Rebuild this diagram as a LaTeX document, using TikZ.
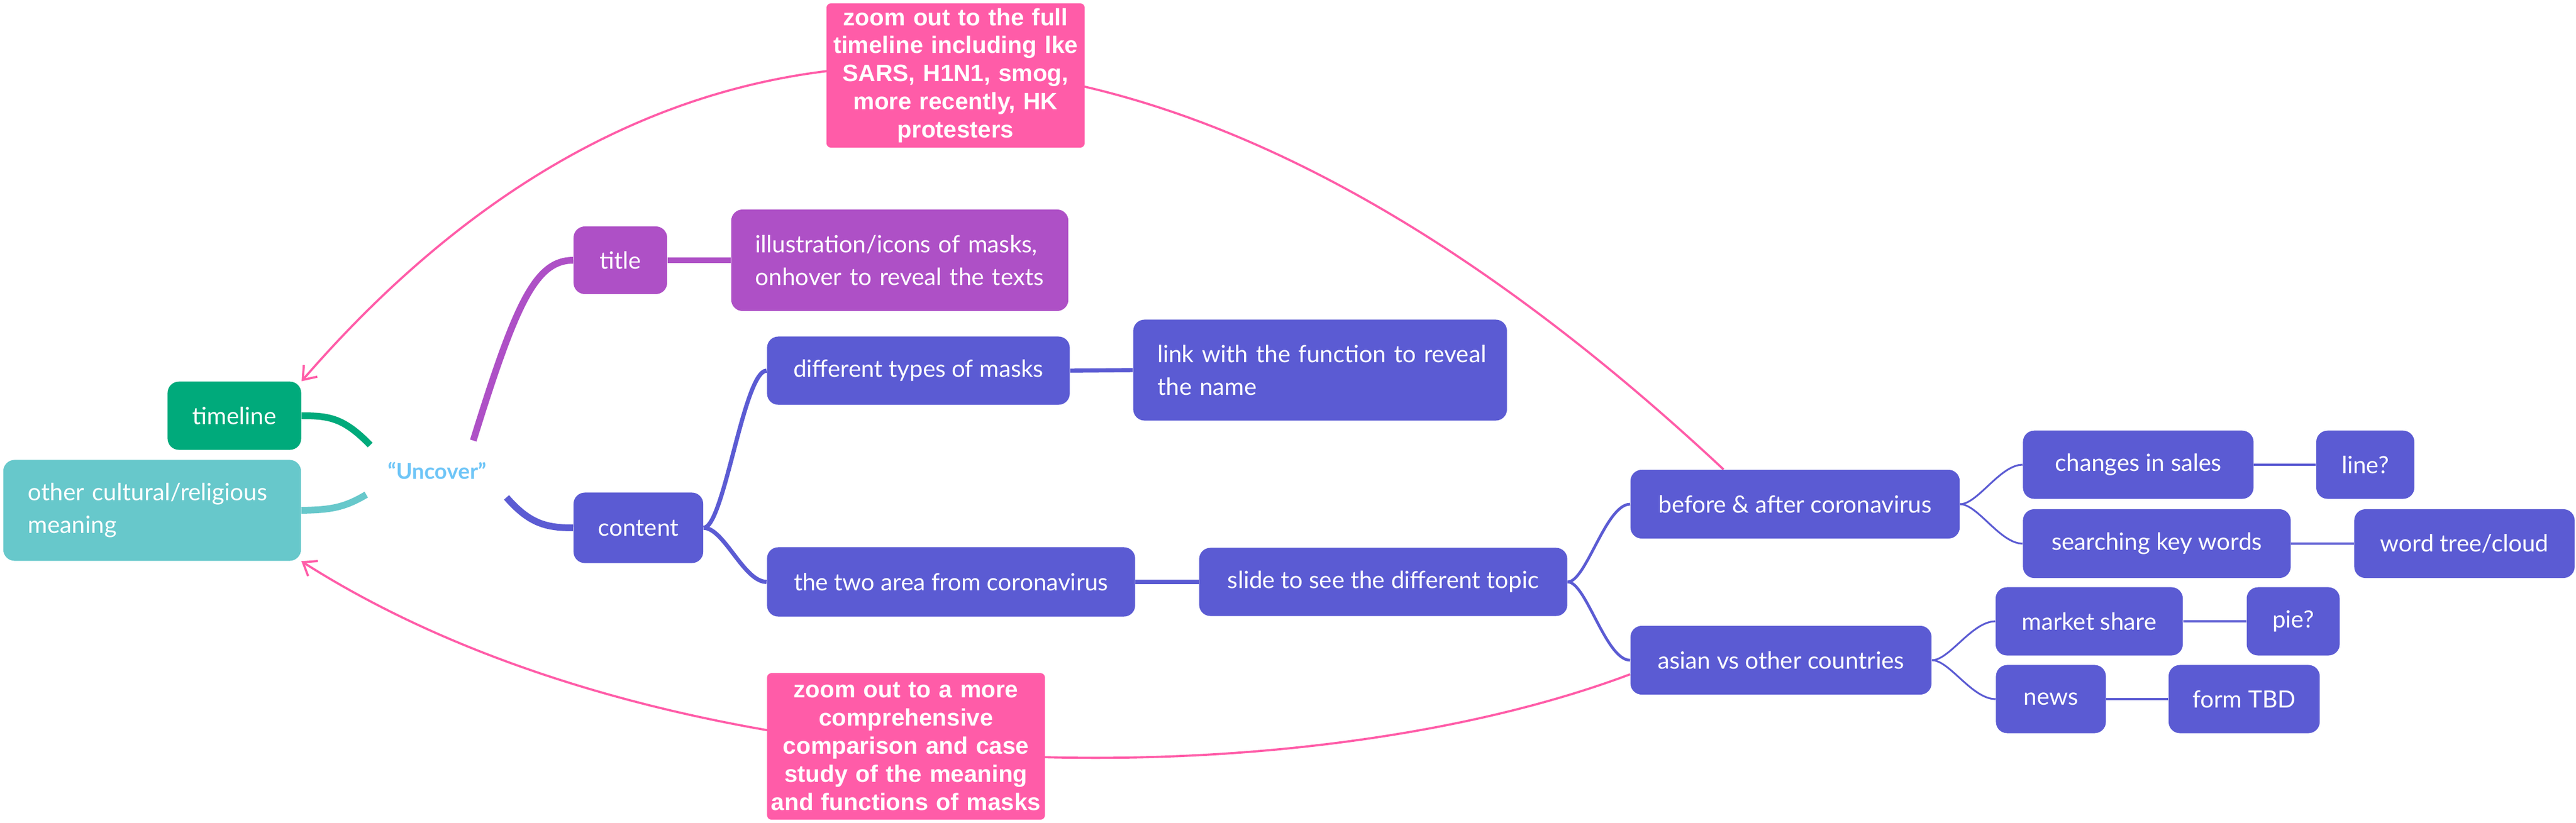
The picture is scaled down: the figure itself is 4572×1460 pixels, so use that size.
\documentclass[tikz,border=0pt]{standalone}
\usepackage{fontspec}
\setmainfont{Lato}
\newfontfamily\pinkfont{Liberation Sans}
\usetikzlibrary{arrows.meta}
\definecolor{cgreen}{RGB}{0,170,123}
\definecolor{cteal}{RGB}{103,200,203}
\definecolor{cpurple}{RGB}{174,80,198}
\definecolor{cblue}{RGB}{91,91,211}
\definecolor{cpink}{RGB}{255,92,168}
\definecolor{clight}{RGB}{110,197,247}
\pgfdeclarelayer{bg}
\pgfsetlayers{bg,main}
\begin{document}
\begin{tikzpicture}[x=0.01cm,y=-0.01cm,
  box/.style={rounded corners=0.2cm, text=white, inner sep=0pt, align=center,
    font=\fontsize{12}{16.5}\selectfont},
  bluebox/.style={box, fill=cblue},
  notebox/.style={rounded corners=0.08cm, fill=cpink, text=white, inner sep=0pt,
    align=center, font=\pinkfont\bfseries\fontsize{12}{14.2}\selectfont},
  brA/.style={line width=3.4pt},
  brB/.style={line width=2.6pt},
  brC/.style={line width=2.1pt},
  brD/.style={line width=1.4pt},
  brE/.style={line width=0.9pt},
  rel/.style={draw=cpink, line width=1.1pt, -{Straight Barb[length=6pt,width=9pt]}}
]
\useasboundingbox (0,0) rectangle (4572,1460);

% nodes
\node[box, fill=cgreen, minimum width=2.37cm, minimum height=1.21cm] (timeline) at (416,738) {timeline};
\node[box, fill=cteal, minimum height=1.79cm, text width=4.40cm, inner xsep=0.44cm, align=left] (other) at (270,906) {\mbox{other cultural/religious}\\meaning};
\node[font=\bfseries\fontsize{11}{13}\selectfont, text=clight] (center) at (776,836) {“Uncover”};

\node[box, fill=cpurple, minimum width=1.66cm, minimum height=1.20cm] (title) at (1101,462) {title};
\node[box, fill=cpurple, minimum height=1.80cm, text width=5.12cm, inner xsep=0.43cm, align=left] (illus) at (1597,462) {\mbox{illustration/icons of masks,}\\\mbox{onhover to reveal the texts}};
\node[bluebox, minimum width=5.37cm, minimum height=1.21cm] (diff) at (1630,658) {different types of masks};
\node[bluebox, minimum height=1.79cm, text width=5.77cm, inner xsep=0.43cm, align=left] (link) at (2343,657) {\mbox{link with the function to reveal}\\the name};
\node[bluebox, minimum width=2.30cm, minimum height=1.25cm] (content) at (1133,937) {content};
\node[bluebox, minimum width=6.53cm, minimum height=1.23cm] (two) at (1688,1033) {the two area from coronavirus};
\node[bluebox, minimum width=6.53cm, minimum height=1.21cm] (slide) at (2455,1033) {slide to see the different topic};
\node[bluebox, minimum width=5.84cm, minimum height=1.22cm] (ba) at (3186,895) {before \& after coronavirus};
\node[bluebox, minimum width=4.09cm, minimum height=1.21cm] (changes) at (3795,825) {changes in sales};
\node[bluebox, minimum width=1.74cm, minimum height=1.21cm] (linep) at (4198,825) {line?};
\node[bluebox, minimum width=4.75cm, minimum height=1.22cm] (search) at (3828,965) {searching key words};
\node[bluebox, minimum width=3.91cm, minimum height=1.22cm] (word) at (4374,965) {word tree/cloud};
\node[bluebox, minimum width=5.34cm, minimum height=1.22cm] (asian) at (3161,1172) {asian vs other countries};
\node[bluebox, minimum width=3.32cm, minimum height=1.21cm] (market) at (3708,1103) {market share};
\node[bluebox, minimum width=1.65cm, minimum height=1.21cm] (pie) at (4070,1103) {pie?};
\node[bluebox, minimum width=1.95cm, minimum height=1.21cm] (news) at (3640,1241) {news};
\node[bluebox, minimum width=2.68cm, minimum height=1.21cm] (form) at (3983,1241) {form TBD};

\node[notebox, text width=4.58cm, minimum height=2.56cm] (note1) at (1696,134) {zoom out to the full\\timeline including lke\\SARS, H1N1, smog,\\more recently, HK\\protesters};
\node[notebox, text width=4.93cm, minimum height=2.60cm] (note2) at (1608,1325) {zoom out to a more\\comprehensive\\comparison and case\\study of the meaning\\and functions of masks};

% branch start points near the centre topic
\coordinate (sG) at (657,790);
\coordinate (sT) at (650,878);
\coordinate (sP) at (840,782);
\coordinate (sB) at (899,883);

\begin{pgfonlayer}{bg}
\fill[white] (0,0) rectangle (4572,1460);
% level 1
\draw[brA, cgreen] (sG) .. controls (610,742) and (585,738) .. (timeline.east);
\draw[brA, cteal] (sT) .. controls (610,902) and (585,905) .. (other.east);
\draw[brA, cpurple] (sP) .. controls (915,540) and (950,462) .. (title.west);
\draw[brA, cblue] (sB) .. controls (940,930) and (970,937) .. (content.west);
% level 2
\draw[brB, cpurple] (title.east) -- (illus.west);
\draw[brC, cblue] (content.east) .. controls (1285,937) and (1320,658) .. (diff.west);
\draw[brC, cblue] (content.east) .. controls (1285,937) and (1320,1033) .. (two.west);
\draw[brC, cblue] (diff.east) -- (link.west);
\draw[brC, cblue] (two.east) -- (slide.west);
% level 3
\draw[brD, cblue] (slide.east) .. controls (2815,1033) and (2850,895) .. (ba.west);
\draw[brD, cblue] (slide.east) .. controls (2815,1033) and (2850,1172) .. (asian.west);
% level 4
\draw[brE, cblue] (ba.east) .. controls (3510,895) and (3550,825) .. (changes.west);
\draw[brE, cblue] (ba.east) .. controls (3510,895) and (3550,965) .. (search.west);
\draw[brE, cblue] (asian.east) .. controls (3460,1172) and (3500,1103) .. (market.west);
\draw[brE, cblue] (asian.east) .. controls (3460,1172) and (3500,1241) .. (news.west);
\draw[brE, cblue] (changes.east) -- (linep.west);
\draw[brE, cblue] (search.east) -- (word.west);
\draw[brE, cblue] (market.east) -- (pie.west);
\draw[brE, cblue] (news.east) -- (form.west);
% relationships
\draw[rel] ([xshift=-1.27cm]ba.north) .. controls (2050,-110) and (1188,-77) .. (timeline.north east);
\draw[rel] ([yshift=-0.25cm]asian.west) .. controls (2300,1420) and (1200,1420) .. (other.south east);
\end{pgfonlayer}
\end{tikzpicture}
\end{document}
